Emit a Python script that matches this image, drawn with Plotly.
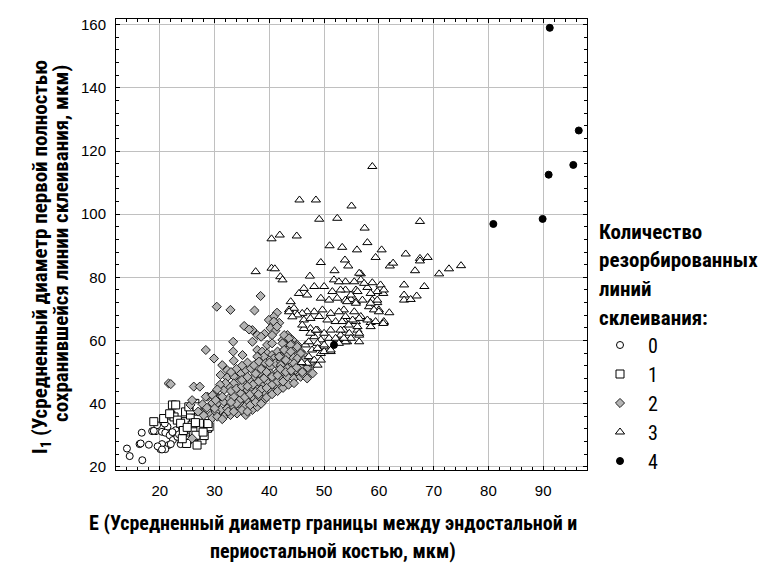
import plotly.graph_objects as go

# ---------------- data ----------------
group_names = ["0", "1", "2", "3", "4"]

g0_points = [
    (14.0, 25.8), (14.5, 23.4), (16.8, 22.1), (16.7, 30.8), (16.3, 27.2), (18.0, 27.0),
    (18.6, 31.3), (19.3, 31.3), (20.1, 25.6), (20.4, 27.2), (19.6, 26.5), (20.4, 31.1),
    (21.4, 32.7), (21.0, 30.8), (21.8, 30.0), (22.9, 31.6), (22.4, 28.5), (21.6, 26.9),
    (21.0, 25.6), (23.2, 29.5), (24.1, 27.9), (25.0, 28.5), (24.8, 29.9), (19.5, 33.2),
    (20.9, 33.7), (26.8, 29.5), (26.8, 27.9), (18.9, 31.4), (22.0, 27.2), (23.8, 27.2),
    (20.4, 25.5), (16.5, 27.4), (22.3, 31.0), (23.5, 30.3),
]

g1_points = [
    (22.3, 39.6), (22.9, 39.6), (22.0, 36.4), (22.6, 35.8), (18.9, 34.3), (23.2, 34.8),
    (24.7, 37.4), (24.7, 34.3), (25.6, 36.4), (26.4, 40.1), (26.5, 38.0), (27.1, 36.4),
    (27.0, 35.1), (25.9, 33.2), (26.2, 31.1), (27.5, 31.6), (27.1, 29.5), (27.7, 29.6),
    (25.0, 28.5), (28.0, 33.8), (28.7, 32.2), (29.0, 32.7), (24.9, 27.4), (24.1, 28.9),
    (27.7, 28.5), (26.8, 26.9), (26.6, 30.0), (25.6, 38.0), (23.8, 33.8), (28.1, 29.9),
    (20.7, 35.3), (21.8, 36.8), (25.3, 39.0), (26.8, 39.0), (26.5, 34.0), (28.7, 34.8),
    (28.8, 33.7), (24.3, 31.5), (25.0, 32.5), (27.9, 31.0),
]

g2_points = [
    (38.4, 74.1), (30.4, 70.7), (32.9, 69.7), (37.3, 69.5), (41.4, 68.8), (40.8, 67.5),
    (39.9, 66.5), (41.8, 65.6), (35.4, 64.6), (36.9, 63.3), (36.3, 63.5), (40.2, 63.9),
    (41.1, 63.1), (39.1, 62.1), (37.8, 61.7), (38.5, 61.2), (40.5, 61.7), (42.4, 60.2),
    (43.3, 61.7), (44.2, 60.2), (45.1, 58.6), (43.9, 59.1), (42.9, 58.6), (33.4, 59.6),
    (36.9, 59.6), (39.6, 58.6), (40.5, 59.1), (28.4, 57.0), (33.4, 56.5), (35.1, 55.4),
    (37.8, 57.0), (38.7, 56.5), (39.6, 55.9), (40.5, 55.4), (41.5, 56.5), (42.7, 57.0),
    (43.6, 57.5), (44.5, 57.0), (45.7, 56.5), (46.3, 55.4), (45.4, 54.3), (44.2, 54.9),
    (43.3, 55.4), (42.1, 54.9), (40.8, 54.3), (39.9, 53.8), (39.0, 54.9), (37.8, 54.9),
    (29.9, 54.3), (31.4, 52.2), (33.5, 53.6), (32.3, 50.6), (31.1, 49.1), (32.3, 48.3),
    (33.5, 48.7), (34.8, 49.6), (35.7, 50.6), (36.6, 51.2), (37.2, 52.2), (38.1, 53.3),
    (39.3, 52.8), (40.2, 51.7), (41.1, 52.8), (42.1, 53.3), (43.0, 52.2), (43.9, 51.7),
    (44.8, 52.8), (46.0, 52.2), (46.9, 53.3), (46.9, 50.6), (45.1, 50.1), (43.9, 49.1),
    (42.7, 49.6), (41.5, 50.1), (40.2, 49.6), (39.0, 50.6), (38.1, 49.6), (37.2, 48.5),
    (36.3, 47.5), (35.4, 46.4), (34.4, 46.9), (33.5, 46.4), (32.6, 45.4), (31.7, 44.3),
    (26.2, 45.4), (27.3, 45.4), (28.7, 42.2), (29.9, 43.2), (30.8, 41.7), (28.4, 38.5),
    (29.6, 39.0), (30.5, 40.1), (31.7, 40.6), (32.6, 41.7), (33.5, 42.2), (34.8, 43.2),
    (36.0, 44.3), (36.9, 44.8), (37.8, 45.4), (38.7, 45.9), (39.6, 46.9), (40.8, 47.5),
    (42.1, 48.0), (43.3, 48.5), (44.5, 48.0), (45.7, 48.5), (46.6, 49.1), (31.1, 38.0),
    (32.3, 38.5), (33.5, 39.0), (34.8, 39.6), (36.0, 40.6), (37.2, 41.7), (38.1, 42.2),
    (39.3, 43.2), (39.0, 41.1), (40.2, 44.3), (41.5, 45.4), (34.1, 36.9), (35.7, 36.4),
    (36.9, 38.0), (37.8, 39.0), (31.7, 35.9), (32.9, 36.4), (29.3, 36.4), (30.2, 37.4),
    (40.8, 66.0), (41.4, 64.4), (42.7, 61.7), (43.6, 60.7), (42.4, 59.1), (43.9, 58.6),
    (45.1, 58.0), (42.7, 57.0), (43.9, 56.5), (45.7, 55.9), (45.1, 54.3), (46.3, 53.8),
    (41.8, 54.9), (43.0, 53.8), (44.5, 52.8), (46.9, 52.3), (46.0, 51.2), (47.5, 49.6),
    (43.3, 51.2), (42.1, 52.2), (44.8, 50.7), (46.3, 49.1), (21.6, 46.4), (22.0, 46.2),
    (47.9, 49.6), (46.9, 48.0), (45.7, 51.7), (27.8, 39.8), (28.6, 38.7), (29.6, 40.2),
    (28.0, 36.3), (29.6, 35.5), (30.5, 35.9), (31.4, 35.1), (25.6, 39.6), (25.9, 41.1),
    (28.4, 42.2), (29.6, 42.7), (30.2, 41.1), (31.4, 42.2), (25.9, 29.0), (27.0, 37.5),
    (33.0, 44.0), (34.0, 44.8), (35.0, 45.5), (35.5, 42.0), (36.5, 43.0), (37.5, 43.8),
    (38.5, 44.5), (34.5, 41.0), (35.5, 39.0), (36.5, 39.5), (37.5, 40.5), (38.5, 40.0),
    (39.5, 42.0), (40.5, 43.0), (41.5, 44.0), (42.5, 45.0), (43.5, 46.0), (44.5, 46.5),
    (40.5, 46.0), (41.5, 47.0), (42.5, 47.0), (39.0, 48.0), (38.0, 47.0), (37.0, 46.0),
    (36.0, 45.5), (35.0, 47.5), (36.0, 48.5), (37.5, 49.5), (38.5, 51.0), (39.5, 50.0),
    (40.5, 48.5), (41.5, 49.0), (42.0, 51.0), (40.0, 53.0), (36.0, 53.0), (35.0, 52.0),
    (34.0, 51.0), (33.0, 50.0), (32.0, 46.5), (31.0, 46.0), (30.5, 44.5), (30.0, 38.5),
    (32.5, 37.5), (33.5, 37.5), (34.0, 40.0), (33.0, 40.5), (35.0, 38.0), (36.0, 37.5),
    (38.0, 43.0), (39.5, 45.0), (43.0, 50.0), (44.0, 50.5), (45.0, 51.5), (46.0, 50.0),
    (47.0, 51.5), (48.0, 52.5), (47.5, 53.0),
]

g3_points = [
    (58.8, 115.1), (45.5, 104.5), (48.5, 104.5), (55.0, 102.6), (49.1, 98.4), (52.4, 98.7),
    (57.4, 95.6), (67.5, 97.7), (40.4, 92.2), (41.9, 93.4), (45.0, 93.1), (51.0, 90.0),
    (53.3, 89.5), (56.0, 88.7), (57.9, 91.0), (60.5, 88.7), (49.4, 84.7), (53.8, 85.5),
    (54.4, 83.6), (59.4, 86.3), (62.0, 83.6), (62.6, 84.5), (64.9, 87.4), (67.5, 86.0),
    (68.9, 86.3), (66.6, 82.1), (71.0, 81.1), (72.8, 82.7), (75.0, 83.7), (37.5, 81.8),
    (40.4, 82.9), (41.0, 82.7), (51.9, 82.1), (47.4, 80.4), (42.0, 80.2), (56.7, 81.1),
    (67.5, 85.2), (42.4, 79.2),
    (56.4, 81.3), (56.7, 79.2), (53.9, 78.6), (55.5, 78.6), (58.8, 78.3), (53.9, 76.0),
    (55.8, 76.0), (57.9, 76.8), (60.3, 76.5), (60.8, 74.9), (54.9, 73.0), (53.9, 72.8),
    (55.8, 72.3), (58.8, 72.8), (59.7, 72.0), (58.2, 70.7), (60.0, 69.7), (61.9, 68.8),
    (64.6, 77.6), (68.3, 77.1), (64.6, 74.4), (64.6, 72.8), (65.8, 73.0), (66.9, 74.1),
    (53.6, 69.7), (55.5, 69.1), (56.7, 67.6), (53.6, 66.5), (55.8, 66.0), (58.5, 65.7),
    (59.4, 66.0), (60.9, 65.7), (53.6, 63.3), (56.1, 63.3), (56.4, 61.7), (54.2, 59.6),
    (56.4, 59.6), (53.0, 61.7), (54.6, 62.3),
    (51.8, 79.2), (52.7, 78.6), (57.3, 78.1), (60.3, 77.6), (59.7, 75.5), (60.9, 76.0),
    (58.5, 74.9), (56.1, 75.5), (54.9, 74.4), (53.0, 76.0), (51.5, 75.5), (50.0, 77.1),
    (48.2, 77.1), (46.3, 76.5), (45.4, 74.9), (46.9, 74.4), (49.4, 73.4), (50.9, 72.8),
    (52.4, 73.4), (54.2, 72.3), (55.8, 71.8), (57.0, 72.8), (58.5, 71.8), (59.7, 72.8),
    (59.1, 69.7), (60.0, 69.1), (60.9, 66.0), (57.9, 66.5), (56.4, 67.0), (55.2, 66.5),
    (53.9, 67.6), (52.7, 69.1), (51.2, 68.6), (49.7, 69.7), (48.2, 69.1), (46.9, 69.1),
    (46.0, 68.6), (43.9, 72.3), (43.6, 69.7), (44.5, 70.2), (45.1, 68.1), (46.3, 66.5),
    (47.5, 67.0), (49.1, 67.6), (50.6, 66.5), (52.1, 66.0), (53.3, 66.0), (54.5, 64.9),
    (56.1, 64.4), (53.0, 63.3), (51.2, 63.3), (50.0, 62.3), (48.8, 63.3), (47.5, 63.8),
    (46.3, 63.8), (46.0, 64.9), (48.2, 61.2), (49.4, 60.2), (50.9, 60.7), (52.4, 60.2),
    (53.9, 59.6), (54.9, 60.7), (56.4, 62.3), (48.8, 59.1), (50.0, 58.0), (51.2, 56.5),
    (49.4, 55.9), (47.8, 57.0), (46.6, 58.6), (47.2, 54.9), (48.2, 53.8), (48.8, 52.2),
    (46.9, 52.8),
    (60.8, 65.4), (58.5, 64.4), (52.1, 60.7), (47.5, 62.3), (48.5, 63.3), (47.2, 59.6),
    (48.8, 57.5), (49.4, 53.8), (50.0, 56.5), (51.2, 57.0), (50.0, 58.6), (52.7, 59.1),
    (53.6, 60.7), (43.6, 69.1), (44.2, 67.5), (45.9, 53.0),
]

g4_points = [
    (51.8, 58.6), (80.9, 96.9), (89.9, 98.5), (91.0, 112.5), (91.2, 159.0),
    (95.5, 115.6), (96.5, 126.5),
]

x_ticks = [20, 30, 40, 50, 60, 70, 80, 90]
y_ticks = [20, 40, 60, 80, 100, 120, 140, 160]

x_title_lines = ["E (Усредненный диаметр границы между эндостальной и",
                 "периостальной костью, мкм)"]
y_title_lines = ["I<sub>1</sub> (Усредненный диаметр первой полностью",
                 "сохранившейся линии склеивания, мкм)"]
legend_title_lines = ["Количество", "резорбированных", "линий", "склеивания:"]

# ---------------- styling ----------------
NARROW = "Liberation Sans Narrow, Arial Narrow, Roboto Condensed, DejaVu Sans Condensed, sans-serif"
REG = "Liberation Sans, Arial, sans-serif"

W, H = 769, 577
L, R, T, B = 116, 182, 19, 107
PW, PH = W - L - R, H - T - B


def px_x(p):
    return (p - L) / PW


def px_y(p):
    return (H - B - p) / PH


styles = [
    dict(symbol="circle", size=7, color="white", line=dict(color="black", width=1)),
    dict(symbol="square", size=8, color="white", line=dict(color="black", width=1)),
    dict(symbol="diamond", size=7, color="#b4b4b4", line=dict(color="#202020", width=1)),
    dict(symbol="triangle-up", size=8, color="white", line=dict(color="black", width=1)),
    dict(symbol="circle", size=7, color="black", line=dict(color="black", width=1)),
]

fig = go.Figure()
for name, pts, st in zip(group_names, [g0_points, g1_points, g2_points, g3_points, g4_points], styles):
    fig.add_trace(go.Scatter(
        x=[p[0] for p in pts], y=[p[1] for p in pts], mode="markers", name=name,
        marker=st, cliponaxis=False,
    ))

axis_common = dict(
    ticks="inside", ticklen=4, tickcolor="black", tickwidth=1,
    showline=True, linecolor="black", linewidth=1, mirror="ticks",
    showgrid=True, gridcolor="#c0c0c0", gridwidth=1, zeroline=False,
    tickfont=dict(family=REG, size=15, color="black"),
)
fig.update_xaxes(range=[12, 98], tickvals=x_ticks, ticktext=[str(v) for v in x_ticks],
                 minor=dict(dtick=2, tick0=0, ticks="inside", ticklen=3, tickcolor="black", showgrid=False),
                 ticklabelstandoff=7, **axis_common)
fig.update_yaxes(range=[19, 161.8], tickvals=y_ticks, ticktext=[str(v) for v in y_ticks],
                 minor=dict(dtick=4, tick0=0, ticks="inside", ticklen=3, tickcolor="black", showgrid=False),
                 ticklabelstandoff=6, **axis_common)

ann = []
for txt, yc in zip(x_title_lines, [523, 551]):
    ann.append(dict(text="<b>" + txt + "</b>", x=px_x(333), y=px_y(yc), xref="paper", yref="paper",
                    showarrow=False, xanchor="center", yanchor="middle",
                    font=dict(family=NARROW, size=20, color="black")))
for txt, xc, yc in zip(y_title_lines, [41, 61], [257, 244]):
    ann.append(dict(text="<b>" + txt + "</b>", x=px_x(xc), y=px_y(yc), xref="paper", yref="paper",
                    showarrow=False, xanchor="center", yanchor="middle", textangle=-90,
                    font=dict(family=NARROW, size=21, color="black")))
for txt, yc in zip(legend_title_lines, [231.5, 259.5, 289, 317.5]):
    ann.append(dict(text="<b>" + txt + "</b>", x=px_x(597), y=px_y(yc), xref="paper", yref="paper",
                    showarrow=False, xanchor="left", yanchor="middle",
                    font=dict(family=NARROW, size=21, color="black")))

fig.update_layout(
    width=W, height=H, margin=dict(l=L, r=R, t=T, b=B, pad=0),
    paper_bgcolor="white", plot_bgcolor="white",
    annotations=ann,
    showlegend=True,
    legend=dict(x=px_x(592), y=px_y(325.5), xanchor="left", yanchor="top",
                font=dict(family=NARROW, size=20, color="black"),
                itemwidth=46, tracegroupgap=0, bgcolor="rgba(0,0,0,0)", borderwidth=0),
)

fig.write_html("out.html")
